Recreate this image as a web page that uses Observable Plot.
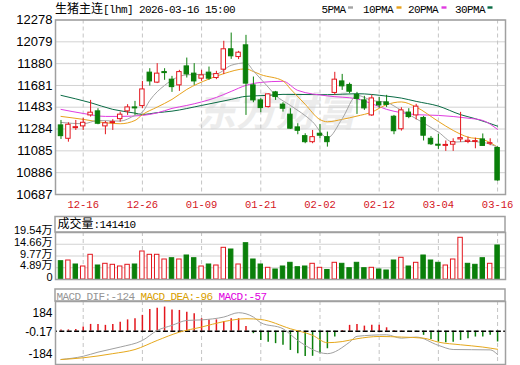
<!DOCTYPE html>
<html><head><meta charset="utf-8">
<script src="https://cdn.jsdelivr.net/npm/d3@7"></script>
<script src="https://cdn.jsdelivr.net/npm/@observablehq/plot@0.6"></script>
<style>
html,body{margin:0;padding:0;background:#fff;}
#root{position:relative;width:520px;height:365px;overflow:hidden;}
#root svg{position:absolute;left:0;}
</style></head>
<body><div id="root"></div>
<script>
// ---- data ----
const dates = ["12-16","12-26","01-09","01-21","02-02","02-12","03-04","03-16"];
const dateIdx = [3,11,19,27,35,43,51,59];
const priceTicks = [10687,10886,11085,11284,11483,11681,11880,12079,12278];

const open = [11317,11195,11292,11308,11408,11445,11308,11338,11374,11445,11481,11493,11798,11707,11803,11734,11682,11855,11789,11743,11798,11749,11825,12011,11940,12047,11682,11545,11484,11618,11506,11415,11299,11219,11164,11241,11210,11613,11718,11686,11595,11545,11408,11527,11527,11396,11282,11434,11408,11385,11195,11141,11130,11141,11189,11166,11166,11189,11150,11111];
const close = [11219,11323,11301,11341,11433,11332,11336,11347,11415,11481,11472,11645,11718,11789,11794,11666,11803,11782,11718,11773,11743,11785,12011,11947,11980,11698,11545,11475,11600,11575,11469,11287,11268,11164,11210,11223,11164,11734,11673,11624,11559,11472,11563,11499,11504,11264,11454,11393,11488,11223,11145,11132,11139,11164,11201,11177,11174,11130,11155,10815];
const high = [11362,11341,11362,11383,11545,11469,11353,11369,11438,11506,11536,11718,11834,11880,11834,11764,11819,11931,11880,11819,11849,11810,12084,12159,11992,12138,11758,11561,11606,11627,11524,11469,11332,11241,11271,11326,11256,11801,11782,11703,11618,11582,11591,11572,11591,11408,11478,11469,11509,11399,11216,11235,11175,11195,11436,11210,11201,11239,11195,11121];
const low = [11189,11164,11271,11271,11393,11323,11232,11271,11347,11408,11408,11469,11676,11698,11728,11618,11627,11749,11682,11718,11728,11734,11780,11919,11917,11408,11524,11433,11475,11545,11438,11280,11232,11150,11150,11195,11119,11593,11636,11606,11417,11454,11399,11472,11481,11232,11265,11378,11367,11175,11134,11098,11080,11080,11162,11150,11104,11128,11132,10808];

const ma5Idx = [0,3,5,8,10,11,12,14,17,21,23,25,26,28,29,31,34,36,38,40,42,44,46,48,51,53,55,57,59];
const ma5 = [11344,11332,11362,11356,11408,11438,11545,11682,11778,11787,11865,11887,11814,11666,11591,11499,11350,11203,11378,11591,11545,11526,11454,11378,11256,11164,11171,11162,11119];
const ma10Idx = [0,3,6,8,10,11,13,15,17,20,22,25,26,27,30,31,33,35,36,38,40,42,44,46,48,51,53,55,57,59];
const ma10 = [11399,11372,11341,11332,11362,11415,11484,11554,11645,11740,11789,11833,11808,11780,11723,11650,11509,11370,11350,11372,11402,11438,11506,11531,11484,11353,11271,11210,11189,11119];
const ma20Idx = [0,3,6,8,11,13,15,17,19,21,23,25,27,30,32,36,40,42,44,46,48,51,55,57,59];
const ma20 = [11463,11426,11399,11399,11408,11431,11472,11499,11531,11572,11627,11682,11709,11719,11636,11586,11559,11515,11463,11433,11415,11408,11383,11362,11280];
const ma30Idx = [0,4,7,10,11,13,15,19,23,25,28,30,36,40,44,46,48,51,54,56,59];
const ma30 = [11591,11524,11463,11429,11417,11433,11447,11499,11554,11582,11591,11600,11597,11606,11584,11566,11536,11493,11415,11378,11310];

const vol = [76080,78990,62360,54050,102690,58200,65270,61110,54050,61110,62360,116410,102690,102690,83150,88550,83150,99780,88550,54050,62360,58200,131790,124720,62360,150910,83150,62360,48640,41570,54050,69430,51140,54050,65270,48640,39500,69430,65270,47000,69430,47000,48640,41570,37420,78990,90210,54050,69430,99780,78990,69430,58200,83150,173360,65270,61110,88550,65270,141410];
const volUp = [0,1,0,1,1,0,1,1,1,1,0,1,1,1,1,0,1,0,0,1,0,1,1,0,1,0,0,0,1,0,0,0,0,0,1,1,0,1,0,0,0,0,1,0,0,0,1,0,1,0,0,0,1,1,1,0,0,0,1,0];
const volTicks = [0,48850,97700,146550,195400];
const volTickLabels = ["0","4.89万","9.77万","14.66万","19.54万"];

const macd = [7,7,9,22,36,36,31,36,48,60,66,84,115,122,128,113,110,101,92,66,60,60,51,66,66,25,-13,-49,-58,-66,-75,-102,-119,-134,-133,-119,-93,-31,4,31,36,27,31,31,18,4,2,-3,-4,-22,-44,-58,-61,-58,-49,-40,-31,-31,-22,-57];
const difIdx = [0,3,5,8,11,13,15,17,19,22,24,26,27,30,32,36,39,40,44,46,48,51,53,58,59];
const dif = [-150,-133,-111,-84,-49,4,31,57,60,75,98,75,45,13,-49,-119,-58,-27,-19,-37,-31,-75,-97,-99,-124];
const deaIdx = [0,3,7,10,13,16,19,22,25,27,31,34,36,38,40,43,46,49,51,54,57,59];
const dea = [-150,-141,-119,-97,-49,-5,22,51,66,62,13,-22,-61,-55,-40,-28,-31,-37,-58,-72,-84,-96];
const macdTickLabels = ["184","-0.17","-184"];

// ---- drawing ----
const red = "#e3161d", green = "#0a7f0a", frameCol = "#a0a0a0";
const xDomain = [-0.743, 60.07];
const root = document.getElementById("root");
function place(svg, top){ svg.style.top = top + "px"; root.appendChild(svg); }
const baseStyle = {background: "transparent", fontFamily: "Liberation Sans, Noto Sans CJK SC, sans-serif", color: "#000", overflow: "visible"};
const vgrid = () => Plot.gridX(dateIdx, {stroke: "#c4c4c4", strokeOpacity: 1, strokeDasharray: "4,3"});

// watermark (background)
root.insertAdjacentHTML("beforeend",
 `<svg width="520" height="365" style="top:0"><text x="196" y="126" font-family="Noto Sans CJK SC" font-weight="bold" font-style="italic" font-size="40" fill="#ececec">东方财富</text></svg>`);

const candles = close.map((c, i) => ({i, o: open[i], h: high[i], l: low[i], c, col: c >= open[i] ? red : green}));
const maLine = (idx, val, color) => Plot.line(idx.map((x, k) => ({x, y: val[k]})), {x: "x", y: "y", stroke: color, strokeWidth: 1, curve: "monotone-x"});

const price = Plot.plot({
  width: 520, height: 215, marginLeft: 55, marginRight: 15, marginTop: 19.5, marginBottom: 21,
  x: {domain: xDomain, label: null}, y: {domain: [10687, 12278], label: null}, color: {type: "identity"},
  style: {...baseStyle, fontSize: "13px"},
  marks: [
    Plot.gridY(priceTicks, {stroke: "#d2d2d2", strokeOpacity: 1}),
    vgrid(),
    Plot.axisY(priceTicks, {tickSize: 0, tickPadding: 3, tickFormat: d => String(d), fontSize: 13, label: null}),
    Plot.axisX(dateIdx, {tickSize: 0, tickPadding: 6, tickFormat: d => dates[dateIdx.indexOf(d)], fill: "#d4141c", fontFamily: "Liberation Mono, monospace", fontSize: 10.5, label: null}),
    maLine(ma30Idx, ma30, "#0a6b45"),
    maLine(ma20Idx, ma20, "#e03ce0"),
    maLine(ma10Idx, ma10, "#e8a21c"),
    maLine(ma5Idx, ma5, "#a4a4a4"),
    Plot.ruleX(candles, {x: "i", y1: "l", y2: "h", stroke: "col", strokeWidth: 1}),
    Plot.rect(candles, {x1: d => d.i - 0.3, x2: d => d.i + 0.3, y1: "o", y2: "c", fill: d => d.col === red ? "#fff" : green, stroke: "col", strokeWidth: 1}),
    Plot.frame({stroke: frameCol, strokeWidth: 1.5})
  ]
});
place(price, 0);

const vols = vol.map((v, i) => ({i, v, col: volUp[i] ? red : green}));
const volume = Plot.plot({
  width: 520, height: 68, marginLeft: 55, marginRight: 15, marginTop: 18, marginBottom: 3,
  x: {domain: xDomain, axis: null}, y: {domain: [0, 195400], label: null}, color: {type: "identity"},
  style: {...baseStyle, fontSize: "11px"},
  marks: [
    Plot.gridY(volTicks, {stroke: "#d2d2d2", strokeOpacity: 1}),
    vgrid(),
    Plot.axisY(volTicks, {tickSize: 0, tickPadding: 3, tickFormat: d => volTickLabels[volTicks.indexOf(d)], dy: -2, fontSize: 11, label: null}),
    Plot.rect(vols, {x1: d => d.i - 0.3, x2: d => d.i + 0.3, y1: d => 0, y2: "v", fill: d => d.col === red ? "#fff" : green, stroke: "col", strokeWidth: 1}),
    Plot.frame({stroke: frameCol, strokeWidth: 1.5})
  ]
});
place(volume, 214);

const macdData = macd.map((v, i) => ({i, v, col: v >= 0 ? red : green}));
const macdPlot = Plot.plot({
  width: 520, height: 81, marginLeft: 55, marginRight: 15, marginTop: 17, marginBottom: 1,
  x: {domain: xDomain, axis: null}, y: {domain: [-176.5, 157.4], axis: null}, color: {type: "identity"},
  style: {...baseStyle, fontSize: "12px"},
  marks: [
    vgrid(),
    Plot.ruleX(macdData, {x: "i", y1: d => 0, y2: "v", stroke: "col", strokeWidth: 1.5}),
    Plot.ruleY([0], {stroke: "#000", strokeWidth: 1.6, strokeDasharray: "5,2.4", strokeDashoffset: 3.1}),
    Plot.line(difIdx.map((x, k) => ({x, y: dif[k]})), {x: "x", y: "y", stroke: "#a0a0a0", strokeWidth: 1, curve: "monotone-x"}),
    Plot.line(deaIdx.map((x, k) => ({x, y: dea[k]})), {x: "x", y: "y", stroke: "#e6a81c", strokeWidth: 1, curve: "monotone-x"}),
    Plot.text([macdTickLabels[0]], {frameAnchor: "top-left", textAnchor: "end", dx: -3, dy: 7, fontSize: 12}),
    Plot.text([macdTickLabels[1]], {frameAnchor: "left", textAnchor: "end", dx: -3, dy: -0.5, fontSize: 12}),
    Plot.text([macdTickLabels[2]], {frameAnchor: "bottom-left", textAnchor: "end", dx: -3, dy: -6.5, fontSize: 12}),
    Plot.frame({stroke: frameCol, strokeWidth: 1.5})
  ]
});
place(macdPlot, 284);

// ---- headers, legend ----
const mono = `font-family="Liberation Mono" font-size="11" letter-spacing="-0.6"`;
const cjk = `font-family="Noto Sans CJK SC" font-size="12"`;
root.insertAdjacentHTML("beforeend", `<svg width="520" height="365" style="top:0">
 <text x="55" y="12.5"><tspan ${cjk}>生猪主连</tspan><tspan ${mono}>[lhm] 2026-03-16 15:00</tspan></text>
 <text x="321.5" y="12.5" ${mono}>5PMA</text><rect x="348" y="6.3" width="5" height="2.4" fill="#a4a4a4"/>
 <text x="363" y="12.5" ${mono}>10PMA</text><rect x="396.5" y="6.3" width="5" height="2.4" fill="#e8a21c"/>
 <text x="408" y="12.5" ${mono}>20PMA</text><rect x="441.5" y="6.3" width="5" height="2.4" fill="#e03ce0"/>
 <text x="455" y="12.5" ${mono}>30PMA</text><rect x="487.5" y="6.3" width="5" height="2.4" fill="#0a6b45"/>
 <rect x="55" y="216.5" width="450" height="15.5" fill="none" stroke="${frameCol}" stroke-width="1.5"/>
 <text x="57.5" y="228"><tspan ${cjk}>成交量</tspan><tspan ${mono}>:${vol[vol.length-1]}</tspan></text>
 <rect x="55" y="289" width="450" height="12" fill="none" stroke="${frameCol}" stroke-width="1.5"/>
 <text x="56.5" y="299.5" ${mono}><tspan fill="#959595">MACD_DIF:${dif[dif.length-1]} </tspan><tspan fill="#d9a000">MACD_DEA:${dea[dea.length-1]} </tspan><tspan fill="#e000e0">MACD:${macd[macd.length-1]}</tspan></text>
</svg>`);
</script>
</body></html>
